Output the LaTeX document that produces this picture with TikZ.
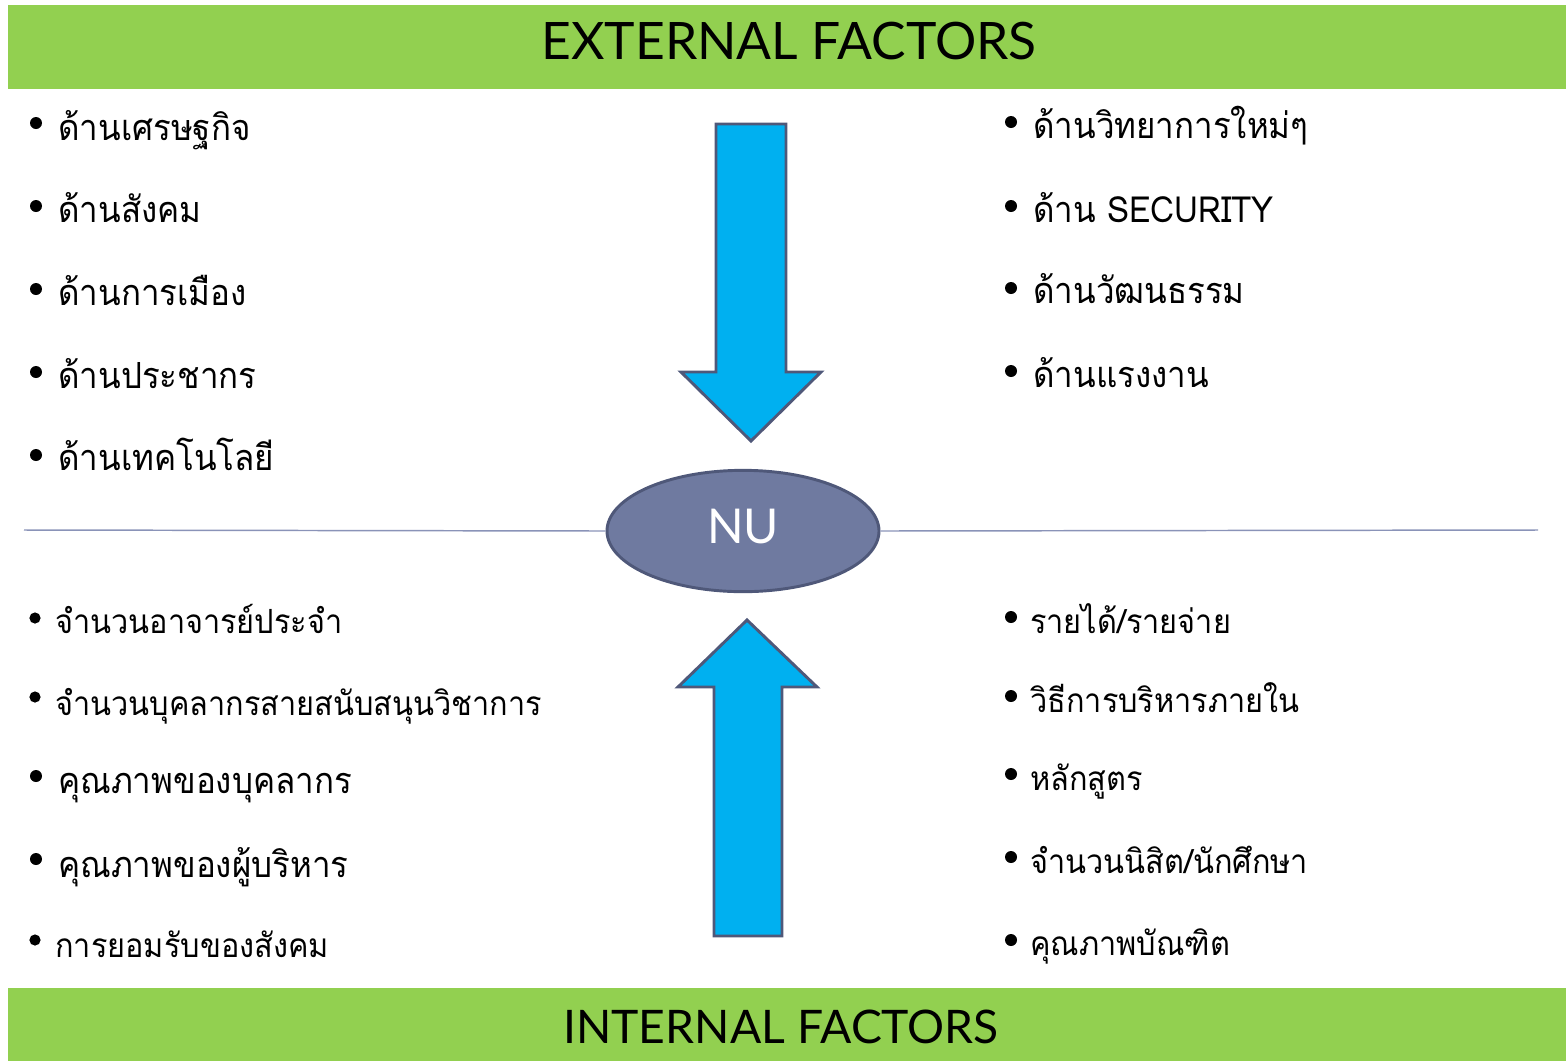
\documentclass[tikz,border=0pt]{standalone}
\usepackage{fontspec}
\newfontfamily\thaifont[Script=Thai, FakeStretch=0.92]{Loma}
\newfontfamily\headfont{Lato}
\usetikzlibrary{shapes.geometric}

\definecolor{bargreen}{HTML}{92D050}
\definecolor{arrowblue}{HTML}{00B0F0}
\definecolor{slate}{HTML}{4F5879}
\definecolor{nufill}{HTML}{6F7AA0}
\definecolor{rulecol}{HTML}{8A93B8}

\tikzset{
  headbar/.style={fill=bargreen, draw=none},
  headtext/.style={anchor=base, inner sep=0pt, font=\headfont\fontsize{38.7}{42}\selectfont},
  bigitem/.style={anchor=base west, inner sep=0pt, font=\thaifont\fontsize{27}{32}\selectfont},
  smallitem/.style={bigitem, font=\thaifont\fontsize{25}{30}\selectfont},
  bulletdot/.style={fill=black},
  blockarrow/.style={fill=arrowblue, draw=slate, line width=2.2pt, line join=miter},
}

\begin{document}
\begin{tikzpicture}[x=0.75pt, y=-0.75pt]

  % Page size, in pixels of the reference
  \useasboundingbox (0,0) rectangle (1566,1061);

  % Green title bars
  \fill[headbar] (8,5) rectangle (1566,89);
  \fill[headbar] (8,988) rectangle (1566,1061);
  \node[headtext] (exttitle) at (789,59) {EXTERNAL FACTORS};
  \node[headtext, font=\headfont\fontsize{34.7}{38}\selectfont] (inttitle) at (781,1043) {INTERNAL FACTORS};

  % The NU ellipse and the dividing line
  \node[ellipse, fill=nufill, draw=slate, line width=2.2pt,
        minimum width=204pt, minimum height=91pt, inner sep=0pt] (nu) at (743,531) {};
  \node[anchor=base, inner sep=0pt, text=white,
        font=\headfont\fontsize{36}{40}\selectfont] (nutext) at (743,543) {NU};
  \draw[rulecol, line width=1.1pt] (24,530) -- (nu.west);
  \draw[rulecol, line width=1.1pt] (nu.east) -- (1538,530);

  % Block arrow from above
  \draw[blockarrow] (716,124) -- (786,124) -- (786,372) -- (821,372)
    -- (751,441) -- (681,372) -- (716,372) -- cycle;

  % Block arrow from below
  \draw[blockarrow] (714,936) -- (782,936) -- (782,687) -- (817,687)
    -- (747,620) -- (678,687) -- (714,687) -- cycle;

  % External factors, left column
  \fill[bulletdot] (36,123) circle[radius=4.5pt];
  \node[bigitem] (extl1) at (58,140) {ด้านเศรษฐกิจ};
  \fill[bulletdot] (36,206) circle[radius=4.5pt];
  \node[bigitem] (extl2) at (58,222) {ด้านสังคม};
  \fill[bulletdot] (36,289) circle[radius=4.5pt];
  \node[bigitem] (extl3) at (58,305) {ด้านการเมือง};
  \fill[bulletdot] (36,372) circle[radius=4.5pt];
  \node[bigitem] (extl4) at (58,388) {ด้านประชากร};
  \fill[bulletdot] (36,455) circle[radius=4.5pt];
  \node[bigitem] (extl5) at (58,470) {ด้านเทคโนโลยี};

  % External factors, right column
  \fill[bulletdot] (1011,122) circle[radius=4.5pt];
  \node[bigitem] (extr1) at (1033,138) {ด้านวิทยาการใหม่ๆ};
  \fill[bulletdot] (1011,206) circle[radius=4.5pt];
  \node[bigitem] (extr2) at (1033,222) {ด้าน SECURITY};
  \fill[bulletdot] (1011,288) circle[radius=4.5pt];
  \node[bigitem] (extr3) at (1033,303) {ด้านวัฒนธรรม};
  \fill[bulletdot] (1011,371) circle[radius=4.5pt];
  \node[bigitem] (extr4) at (1033,387) {ด้านแรงงาน};

  % Internal factors, left column
  \fill[bulletdot] (35,618) circle[radius=4.2pt];
  \node[smallitem] (intl1) at (55,633) {จำนวนอาจารย์ประจำ};
  \fill[bulletdot] (35,697) circle[radius=4.2pt];
  \node[smallitem] (intl2) at (55,715) {จำนวนบุคลากรสายสนับสนุนวิชาการ};
  \fill[bulletdot] (36,776) circle[radius=4.5pt];
  \node[bigitem] (intl3) at (58,793) {คุณภาพของบุคลากร};
  \fill[bulletdot] (36,859) circle[radius=4.5pt];
  \node[bigitem] (intl4) at (58,877) {คุณภาพของผู้บริหาร};
  \fill[bulletdot] (35,940) circle[radius=4.2pt];
  \node[smallitem] (intl5) at (55,957) {การยอมรับของสังคม};

  % Internal factors, right column
  \fill[bulletdot] (1011,617) circle[radius=4.5pt];
  \node[smallitem] (intr1) at (1030,633) {รายได้/รายจ่าย};
  \fill[bulletdot] (1011,696) circle[radius=4.5pt];
  \node[smallitem] (intr2) at (1030,712) {วิธีการบริหารภายใน};
  \fill[bulletdot] (1011,774) circle[radius=4.5pt];
  \node[smallitem] (intr3) at (1030,790) {หลักสูตร};
  \fill[bulletdot] (1011,857) circle[radius=4.5pt];
  \node[smallitem] (intr4) at (1030,873) {จำนวนนิสิต/นักศึกษา};
  \fill[bulletdot] (1011,940) circle[radius=4.5pt];
  \node[smallitem] (intr5) at (1030,955) {คุณภาพบัณฑิต};

\end{tikzpicture}
\end{document}
